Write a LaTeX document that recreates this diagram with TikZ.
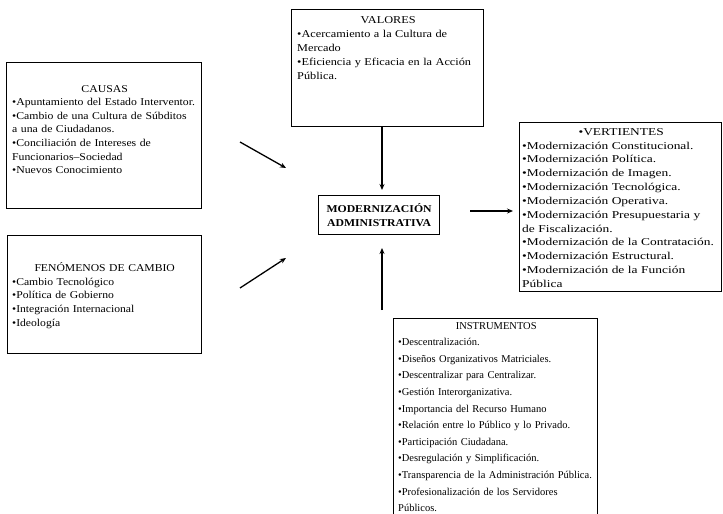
\documentclass[tikz,border=0pt]{standalone}
\usepackage{fontspec}
\setmainfont{Liberation Serif}
\newfontfamily\stA[FakeStretch=1.12]{Liberation Serif}
\newfontfamily\stB[FakeStretch=1.11]{Liberation Serif}
\newfontfamily\stC[FakeStretch=1.17]{Liberation Serif}
\newfontfamily\stD[FakeStretch=1.28]{Liberation Serif}
\newfontfamily\stE[FakeStretch=1.0]{Liberation Serif}
\newfontfamily\stF[FakeStretch=1.12]{Liberation Serif}
\usetikzlibrary{arrows.meta}
\begin{document}
\begin{tikzpicture}[x=1pt,y=-1pt,
  frame/.style={draw=black,line width=1.2pt,inner sep=0pt,anchor=north west},
  txt/.style={anchor=north west,inner sep=0pt,align=left},
  arr/.style={line width=1.3pt,-{Stealth[length=6pt,width=5pt]}}]
\useasboundingbox (0,0) rectangle (723,514);
% boxes
\node[frame,minimum width=195pt,minimum height=146pt] (causas) at (6,62) {};
\node[frame,minimum width=194pt,minimum height=118pt] (fenom) at (7,235) {};
\node[frame,minimum width=192pt,minimum height=117pt] (valores) at (291,9) {};
\node[frame,minimum width=121pt,minimum height=39pt] (moder) at (318,195) {};
\node[frame,minimum width=202pt,minimum height=169pt] (vert) at (519,122) {};
\node[frame,minimum width=204pt,minimum height=200pt] (instr) at (393,318) {};
% texts
\node[txt,text width=185pt,font=\stA\fontsize{10.5}{13.6}\selectfont] (causasT) at (12,85) {\makebox[185pt]{CAUSAS}\\
•Apuntamiento del Estado Interventor.\\
•Cambio de una Cultura de Súbditos\\
a una de Ciudadanos.\\
•Conciliación de Intereses de\\
Funcionarios–Sociedad\\
•Nuevos Conocimiento};
\node[txt,text width=185pt,font=\stB\fontsize{10.5}{13.8}\selectfont] (fenomT) at (12,262) {\makebox[185pt]{FENÓMENOS DE CAMBIO}\\
•Cambio Tecnológico\\
•Política de Gobierno\\
•Integración Internacional\\
•Ideología};
\node[txt,text width=182pt,font=\stC\fontsize{10.5}{14}\selectfont] (valoresT) at (297,16) {\makebox[182pt]{VALORES}\\
•Acercamiento a la Cultura de\\
Mercado\\
•Eficiencia y Eficacia en la Acción\\
Pública.};
\node[txt,text width=198pt,font=\stD\fontsize{10.5}{13.85}\selectfont] (vertT) at (522,128) {\makebox[198pt]{•VERTIENTES}\\
•Modernización Constitucional.\\
•Modernización Política.\\
•Modernización de Imagen.\\
•Modernización Tecnológica.\\
•Modernización Operativa.\\
•Modernización Presupuestaria y\\
de Fiscalización.\\
•Modernización de la Contratación.\\
•Modernización Estructural.\\
•Modernización de la Función\\
Pública};
\node[txt,text width=196pt,font=\stE\fontsize{10.5}{16.6}\selectfont] (instrT) at (398,322) {\makebox[196pt]{INSTRUMENTOS}\\
•Descentralización.\\
•Diseños Organizativos Matriciales.\\
•Descentralizar para Centralizar.\\
•Gestión Interorganizativa.\\
•Importancia del Recurso Humano\\
•Relación entre lo Público y lo Privado.\\
•Participación Ciudadana.\\
•Desregulación y Simplificación.\\
•Transparencia de la Administración Pública.\\
•Profesionalización de los Servidores\\
Públicos.};
\node[anchor=center,inner sep=0pt,align=center,font=\stF\fontsize{10.5}{13.6}\selectfont\bfseries] (moderT) at (moder.center) {MODERNIZACIÓN\\ADMINISTRATIVA};
% arrow endpoints
\coordinate (c1) at (240,142);
\coordinate (c2) at (286,168);
\coordinate (f1) at (240,288);
\coordinate (f2) at (286,258);
\coordinate (v2) at (382,190);
\coordinate (i1) at (382,310);
\coordinate (i2) at (382,248);
\coordinate (r1) at (470,211);
\coordinate (r2) at (513,211);
\draw[arr] (c1) -- (c2);
\draw[arr] (f1) -- (f2);
\draw[arr] (valores.south -| v2) -- (v2);
\draw[arr] (i1) -- (i2);
\draw[arr] (r1) -- (r2);
\end{tikzpicture}
\end{document}
